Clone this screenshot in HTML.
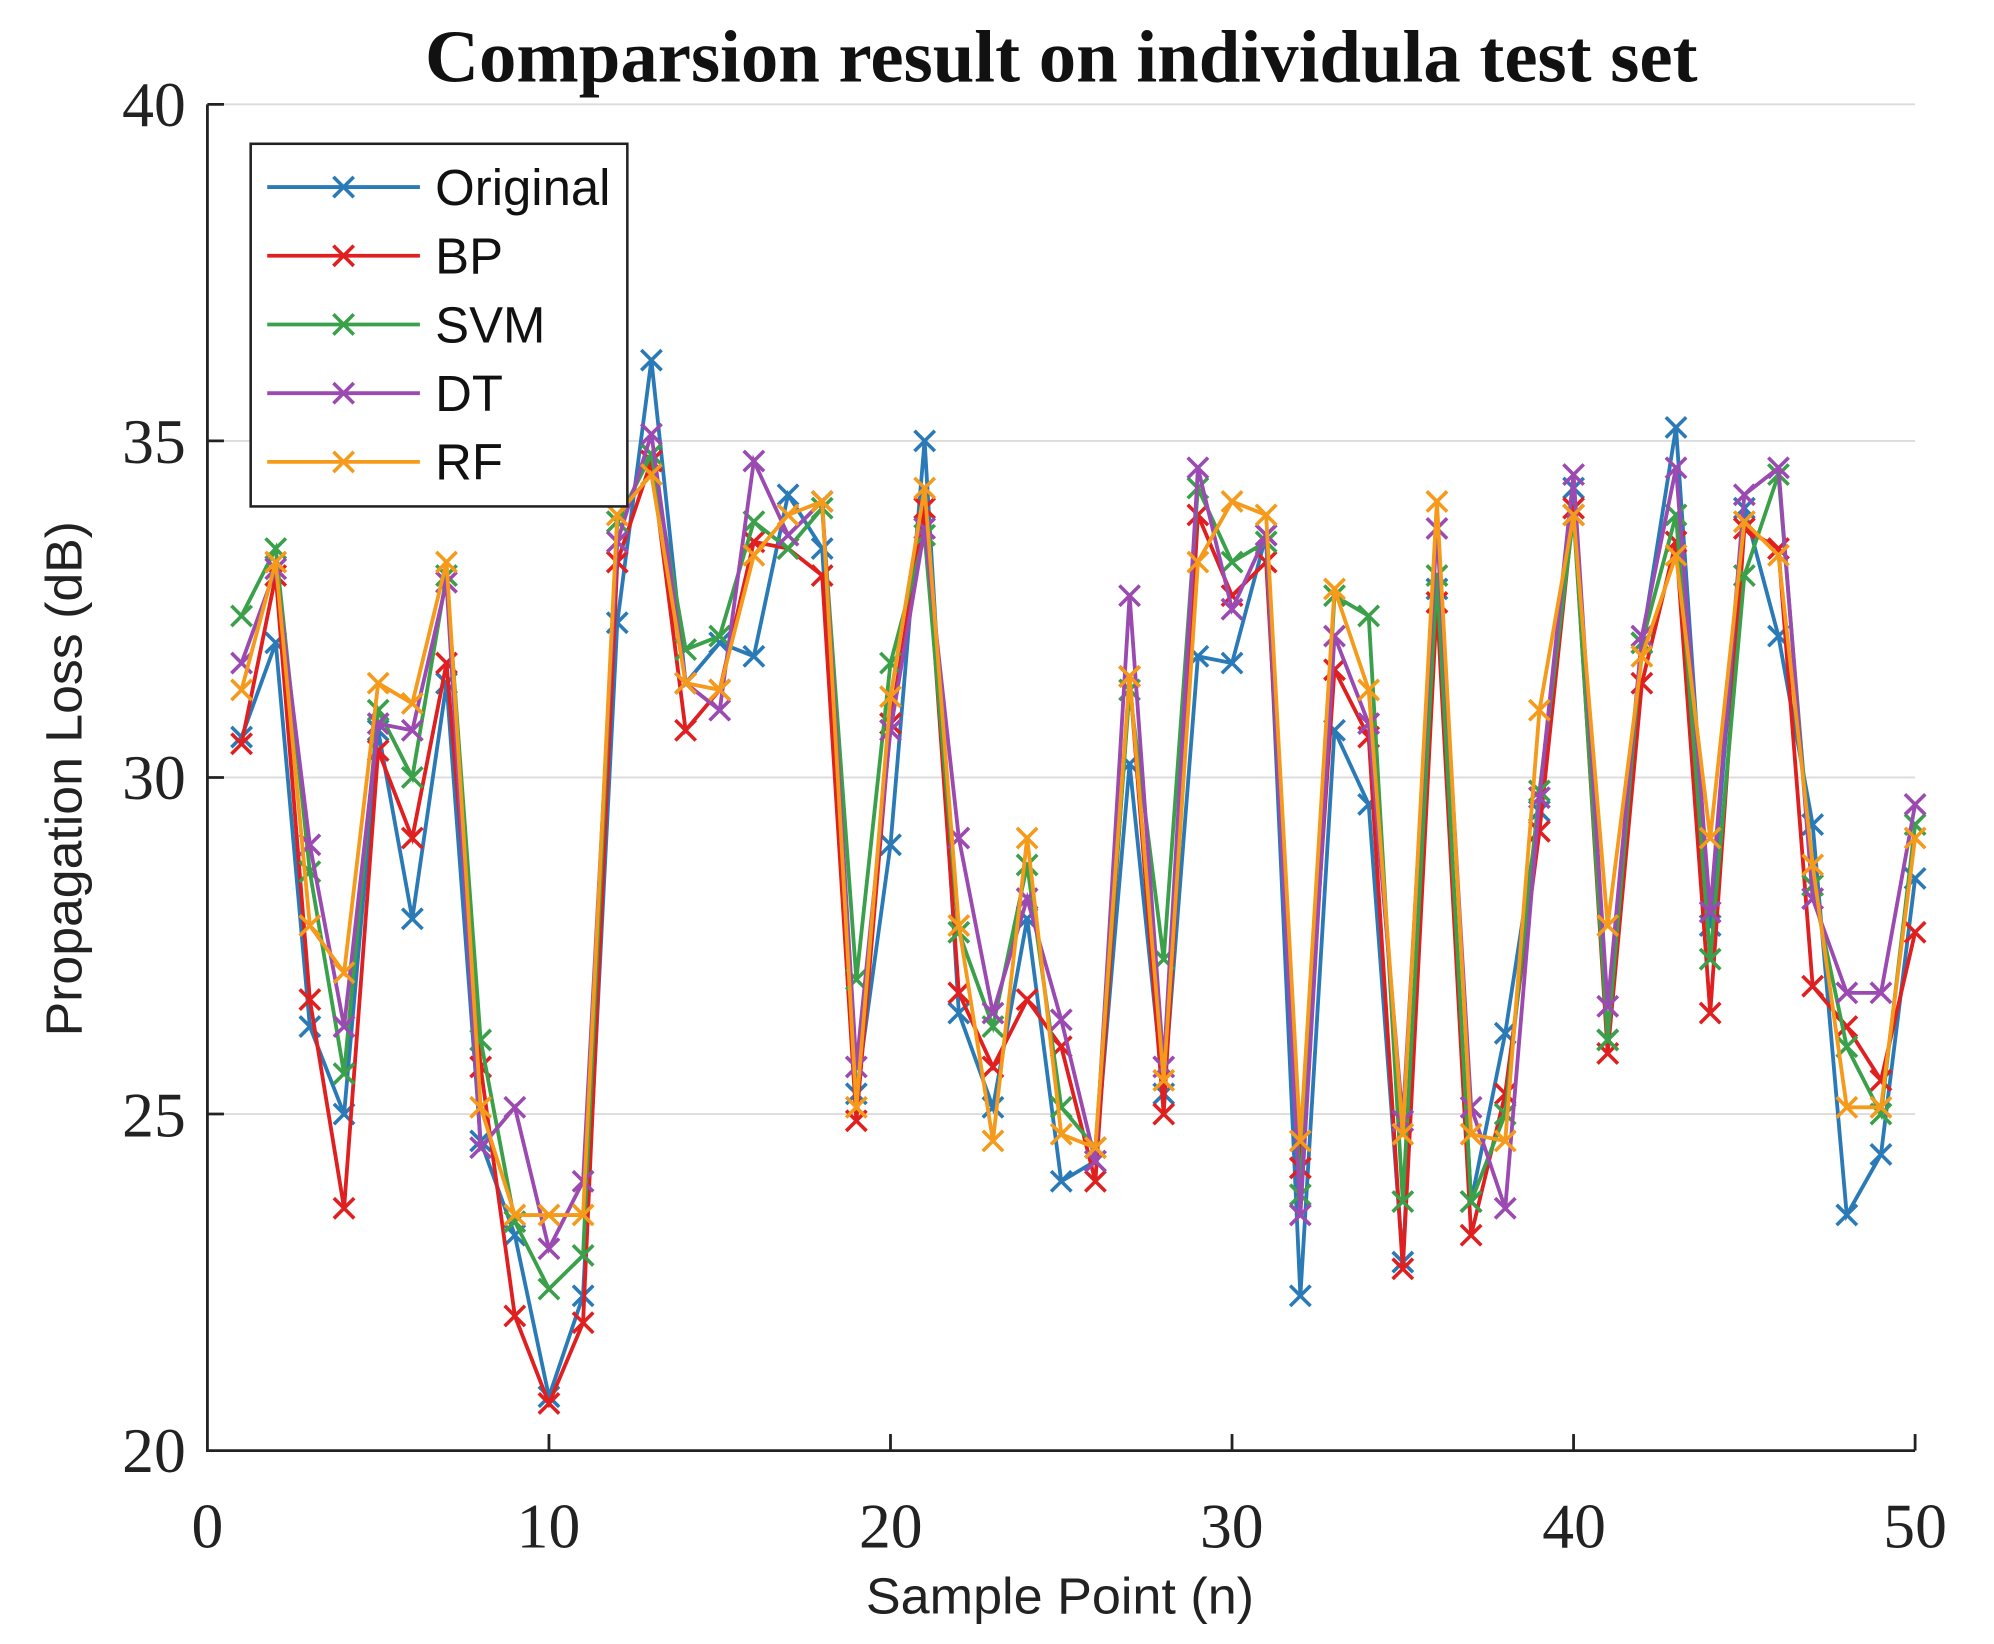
<!DOCTYPE html>
<html><head><meta charset="utf-8"><style>html,body{margin:0;padding:0;background:#fff}svg{display:block}</style></head>
<body>
<svg id="s" width="1994" height="1644" viewBox="0 0 1567 1292" preserveAspectRatio="none" xmlns="http://www.w3.org/2000/svg">
<rect width="1567" height="1292" fill="#fff"/>
<g stroke="#dcdcdc" stroke-width="1.5">
<line x1="163" x2="1505" y1="82" y2="82"/>
<line x1="163" x2="1505" y1="346.5" y2="346.5"/>
<line x1="163" x2="1505" y1="611" y2="611"/>
<line x1="163" x2="1505" y1="875.5" y2="875.5"/>
</g>
<g id="series"></g>
<g stroke="#222" stroke-width="2.2" fill="none">
<polyline points="163,82 163,1140 1505,1140"/>
<line x1="163" x2="176" y1="82" y2="82"/><line x1="163" x2="176" y1="346.5" y2="346.5"/><line x1="163" x2="176" y1="611" y2="611"/><line x1="163" x2="176" y1="875.5" y2="875.5"/>
<line x1="431.4" x2="431.4" y1="1140" y2="1127"/><line x1="699.8" x2="699.8" y1="1140" y2="1127"/><line x1="968.2" x2="968.2" y1="1140" y2="1127"/><line x1="1236.6" x2="1236.6" y1="1140" y2="1127"/><line x1="1505" x2="1505" y1="1140" y2="1127"/>
</g>
<g font-family="Liberation Serif, serif" font-size="50" fill="#222">
<text x="146" y="99" text-anchor="end">40</text>
<text x="146" y="364" text-anchor="end">35</text>
<text x="146" y="628" text-anchor="end">30</text>
<text x="146" y="893" text-anchor="end">25</text>
<text x="146" y="1157" text-anchor="end">20</text>
<text x="163" y="1216" text-anchor="middle">0</text>
<text x="431" y="1216" text-anchor="middle">10</text>
<text x="700" y="1216" text-anchor="middle">20</text>
<text x="968" y="1216" text-anchor="middle">30</text>
<text x="1237" y="1216" text-anchor="middle">40</text>
<text x="1505" y="1216" text-anchor="middle">50</text>
</g>
<text x="834" y="64" text-anchor="middle" font-family="Liberation Serif, serif" font-weight="bold" font-size="58" fill="#111" textLength="1000" lengthAdjust="spacingAndGlyphs">Comparsion result on individula test set</text>
<text x="833" y="1268" text-anchor="middle" font-family="Liberation Sans, sans-serif" font-size="40" fill="#222" textLength="305" lengthAdjust="spacingAndGlyphs">Sample Point (n)</text>
<text transform="translate(64,612) rotate(-90)" text-anchor="middle" font-family="Liberation Sans, sans-serif" font-size="40" fill="#222" textLength="405" lengthAdjust="spacingAndGlyphs">Propagation Loss (dB)</text>
<rect x="197" y="113" width="296" height="285" fill="#fff" stroke="#222" stroke-width="2"/>
<g id="legend" font-family="Liberation Sans, sans-serif" font-size="40" fill="#111"></g>
</svg>
<script>
var X0=163,SX=26.84,Y40=82,SY=52.9;
var data={
o:[30.6,32.0,26.3,25.0,30.7,27.9,31.4,24.6,23.2,20.8,22.3,32.3,36.2,31.4,32.0,31.8,34.2,33.4,25.3,29.0,35.0,26.5,25.1,27.9,24.0,24.3,30.2,25.3,31.8,31.7,33.6,22.3,30.7,29.6,22.8,32.8,23.7,26.2,29.5,34.3,26.1,32.0,35.2,27.8,34.0,32.1,29.3,23.5,24.4,28.5],
b:[30.5,33.0,26.7,23.6,30.4,29.1,31.7,25.7,22.0,20.7,21.9,33.2,34.7,30.7,31.3,33.5,33.4,33.0,24.9,30.8,34.0,26.8,25.7,26.7,26.0,24.0,31.5,25.0,33.9,32.7,33.2,24.2,31.6,30.6,22.7,32.6,23.2,25.3,29.2,34.0,25.9,31.4,33.5,26.5,33.7,33.4,26.9,26.3,25.5,27.7],
s:[32.4,33.4,28.6,25.6,31.0,30.0,33.0,26.1,23.4,22.4,22.9,33.8,34.8,31.9,32.1,33.8,33.4,34.0,27.0,31.7,33.6,27.7,26.3,28.7,25.1,24.5,31.3,27.3,34.3,33.2,33.5,23.8,32.7,32.4,23.7,33.0,23.7,25.0,29.8,33.9,26.1,32.0,33.9,27.3,33.0,34.5,28.4,26.0,25.0,29.3],
d:[31.7,33.1,29.0,26.3,30.8,30.7,32.9,24.5,25.1,23.0,24.0,33.5,35.1,31.4,31.0,34.7,33.6,34.1,25.7,30.7,33.7,29.1,26.5,28.2,26.4,24.3,32.7,25.7,34.6,32.5,33.6,23.5,32.1,30.8,24.9,33.7,25.1,23.6,29.7,34.5,26.6,32.1,34.6,28.0,34.2,34.6,28.2,26.8,26.8,29.6],
r:[31.3,33.2,27.8,27.1,31.4,31.1,33.2,25.1,23.5,23.5,23.5,33.9,34.5,31.4,31.3,33.3,33.9,34.1,25.1,31.2,34.3,27.8,24.6,29.1,24.7,24.5,31.5,25.5,33.2,34.1,33.9,24.6,32.8,31.3,24.7,34.1,24.7,24.6,31.0,33.9,27.8,31.8,33.3,29.1,33.8,33.3,28.7,25.1,25.1,29.1]};
var cols={o:"#2a7ab8",b:"#e02020",s:"#3aa04a",d:"#9a4ab0",r:"#f59a1a"};
var names={o:"Original",b:"BP",s:"SVM",d:"DT",r:"RF"};
function mk(cx,cy,c){var m=8;return '<path d="M'+(cx-m)+' '+(cy-m)+'L'+(cx+m)+' '+(cy+m)+'M'+(cx-m)+' '+(cy+m)+'L'+(cx+m)+' '+(cy-m)+'" stroke="'+c+'" stroke-width="2.8" fill="none"/>';}
var h='',L='',keys=['o','b','s','d','r'];
keys.forEach(function(k,i){var pts=[],m='';data[k].forEach(function(v,j){var x=X0+(j+1)*SX,y=Y40+(40-v)*SY;pts.push(x.toFixed(1)+','+y.toFixed(1));m+=mk(x,y,cols[k]);});
h+='<polyline points="'+pts.join(' ')+'" fill="none" stroke="'+cols[k]+'" stroke-width="3"/>'+m;
var ly=147+i*54;L+='<line x1="210" x2="330" y1="'+ly+'" y2="'+ly+'" stroke="'+cols[k]+'" stroke-width="3"/>'+mk(270,ly,cols[k])+'<text x="342" y="'+(ly+14)+'">'+names[k]+'</text>';});
document.getElementById('series').innerHTML=h;document.getElementById('legend').innerHTML=L;
</script>
</body></html>
